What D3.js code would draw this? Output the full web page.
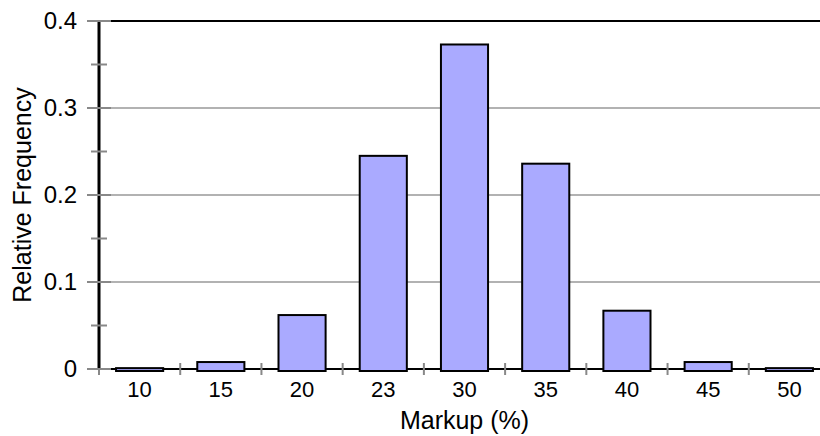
<!DOCTYPE html>
<html>
<head>
<meta charset="utf-8">
<script src="https://cdn.jsdelivr.net/npm/d3@7"></script>
<style>
  body { margin: 0; background: #fff; }
  svg text { font-family: "Liberation Sans", Arial, sans-serif; fill: #000; }
</style>
</head>
<body>
<div id="chart"></div>
<script>
var categories = ["10", "15", "20", "23", "30", "35", "40", "45", "50"];
var frequencies = [0.001, 0.008, 0.062, 0.245, 0.373, 0.236, 0.067, 0.008, 0.001];
var yTicks = [0, 0.1, 0.2, 0.3, 0.4];
var yMinorTicks = [0.05, 0.15, 0.25, 0.35];

var width = 820, height = 436;
var plotLeft = 99, plotRight = 830, plotTop = 21, plotBottom = 369;

var svg = d3.select("#chart").append("svg")
  .attr("width", width)
  .attr("height", height);

var x = d3.scaleBand()
  .domain(categories)
  .range([plotLeft, plotRight])
  .paddingInner(0.42)
  .paddingOuter(0.21);

var y = d3.scaleLinear()
  .domain([0, 0.4])
  .range([plotBottom, plotTop]);

// gridlines
svg.append("g").selectAll("line")
  .data(yTicks.filter(function(d) { return d > 0 && d < 0.4; }))
  .enter().append("line")
  .attr("x1", plotLeft).attr("x2", width)
  .attr("y1", function(d) { return y(d); })
  .attr("y2", function(d) { return y(d); })
  .attr("stroke", "#999")
  .attr("stroke-width", 1.5);

// top border
svg.append("line")
  .attr("x1", plotLeft).attr("x2", width)
  .attr("y1", y(0.4)).attr("y2", y(0.4))
  .attr("stroke", "#000").attr("stroke-width", 2);

// x baseline
svg.append("line")
  .attr("x1", plotLeft).attr("x2", width)
  .attr("y1", y(0)).attr("y2", y(0))
  .attr("stroke", "#000").attr("stroke-width", 2);

// category ticks between bars
var xBoundaries = categories.map(function(c) { return x(c) - x.step() * x.paddingOuter(); });
svg.append("g").selectAll("line")
  .data(xBoundaries)
  .enter().append("line")
  .attr("x1", function(d) { return d; })
  .attr("x2", function(d) { return d; })
  .attr("y1", y(0) - 6).attr("y2", y(0) + 6)
  .attr("stroke", "#888").attr("stroke-width", 2);

// bars
svg.append("g").selectAll("rect")
  .data(frequencies)
  .enter().append("rect")
  .attr("x", function(d, i) { return x(categories[i]); })
  .attr("width", x.bandwidth())
  .attr("y", function(d) { return y(d); })
  .attr("height", function(d) { return y(0) - y(d) + 2; })
  .attr("fill", "#aaaaff")
  .attr("stroke", "#000")
  .attr("stroke-width", 2);

// y axis line
svg.append("line")
  .attr("x1", plotLeft).attr("x2", plotLeft)
  .attr("y1", y(0.4) - 1).attr("y2", y(0) + 1)
  .attr("stroke", "#000").attr("stroke-width", 3);

// y major ticks
svg.append("g").selectAll("line")
  .data(yTicks)
  .enter().append("line")
  .attr("x1", plotLeft - 12).attr("x2", plotLeft + 12)
  .attr("y1", function(d) { return y(d); })
  .attr("y2", function(d) { return y(d); })
  .attr("stroke", "#888").attr("stroke-width", 2);

// y minor ticks
svg.append("g").selectAll("line")
  .data(yMinorTicks)
  .enter().append("line")
  .attr("x1", plotLeft - 8).attr("x2", plotLeft + 8)
  .attr("y1", function(d) { return y(d); })
  .attr("y2", function(d) { return y(d); })
  .attr("stroke", "#888").attr("stroke-width", 2);

// y tick labels
svg.append("g").selectAll("text")
  .data(yTicks)
  .enter().append("text")
  .attr("x", 77)
  .attr("y", function(d) { return y(d); })
  .attr("dy", "0.35em")
  .attr("text-anchor", "end")
  .style("font-size", "24px")
  .text(function(d) { return d === 0 ? "0" : d3.format(".1f")(d); });

// x tick labels
svg.append("g").selectAll("text")
  .data(categories)
  .enter().append("text")
  .attr("x", function(d) { return x(d) + x.bandwidth() / 2; })
  .attr("y", 397)
  .attr("text-anchor", "middle")
  .style("font-size", "22px")
  .text(function(d) { return d; });

// axis titles
svg.append("text")
  .attr("x", (plotLeft + plotRight) / 2)
  .attr("y", 429)
  .attr("text-anchor", "middle")
  .style("font-size", "25px")
  .text("Markup (%)");

svg.append("text")
  .attr("transform", "translate(31," + ((plotTop + plotBottom) / 2) + ") rotate(-90)")
  .attr("text-anchor", "middle")
  .style("font-size", "25px")
  .text("Relative Frequency");
</script>
</body>
</html>
